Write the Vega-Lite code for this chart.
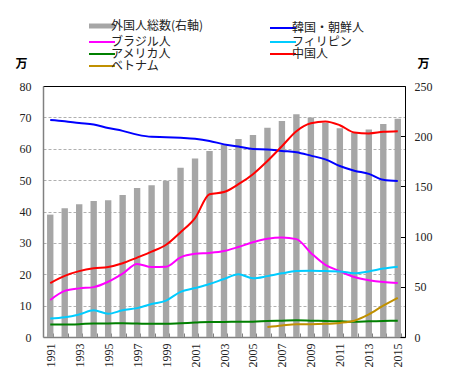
{
  "$schema": "https://vega.github.io/schema/vega-lite/v6.json",
  "width": 362,
  "height": 251,
  "autosize": {"type": "none"},
  "padding": {"left": 43, "top": 86, "right": 49, "bottom": 54},
  "background": "white",
  "config": {
    "view": {"stroke": null},
    "font": "Liberation Sans Narrow",
    "axis": {"labelFont": "Liberation Sans Narrow", "labelFontSize": 12, "labelColor": "#222"}
  },
  "data": {
    "values": [
      {"year": "1991", "total": 121.9, "korea": 69.2, "china": 17.2, "brazil": 11.8, "phil": 5.9, "usa": 4.0},
      {"year": "1992", "total": 128.2, "korea": 68.8, "china": 19.5, "brazil": 14.7, "phil": 6.3, "usa": 4.0},
      {"year": "1993", "total": 132.1, "korea": 68.2, "china": 21.0, "brazil": 15.5, "phil": 7.2, "usa": 4.1},
      {"year": "1994", "total": 135.4, "korea": 67.7, "china": 21.9, "brazil": 15.9, "phil": 8.5, "usa": 4.3},
      {"year": "1995", "total": 136.2, "korea": 66.6, "china": 22.3, "brazil": 17.6, "phil": 7.4, "usa": 4.3},
      {"year": "1996", "total": 141.5, "korea": 65.7, "china": 23.5, "brazil": 20.2, "phil": 8.5, "usa": 4.4},
      {"year": "1997", "total": 148.3, "korea": 64.5, "china": 25.3, "brazil": 23.3, "phil": 9.2, "usa": 4.3},
      {"year": "1998", "total": 151.2, "korea": 63.8, "china": 27.2, "brazil": 22.3, "phil": 10.5, "usa": 4.2},
      {"year": "1999", "total": 155.6, "korea": 63.7, "china": 29.4, "brazil": 22.4, "phil": 11.6, "usa": 4.2},
      {"year": "2000", "total": 168.6, "korea": 63.5, "china": 33.4, "brazil": 25.4, "phil": 14.4, "usa": 4.4},
      {"year": "2001", "total": 177.8, "korea": 63.2, "china": 37.9, "brazil": 26.5, "phil": 15.6, "usa": 4.6},
      {"year": "2002", "total": 185.2, "korea": 62.5, "china": 45.5, "brazil": 26.8, "phil": 16.9, "usa": 4.8},
      {"year": "2003", "total": 191.5, "korea": 61.4, "china": 46.2, "brazil": 27.4, "phil": 18.5, "usa": 4.8},
      {"year": "2004", "total": 197.3, "korea": 60.7, "china": 48.7, "brazil": 28.7, "phil": 20.0, "usa": 4.9},
      {"year": "2005", "total": 201.2, "korea": 59.9, "china": 51.9, "brazil": 30.2, "phil": 18.7, "usa": 4.9},
      {"year": "2006", "total": 208.4, "korea": 59.8, "china": 56.1, "brazil": 31.3, "phil": 19.4, "usa": 5.1, "viet": 3.2},
      {"year": "2007", "total": 215.2, "korea": 59.3, "china": 60.8, "brazil": 31.7, "phil": 20.3, "usa": 5.2, "viet": 3.7},
      {"year": "2008", "total": 221.8, "korea": 58.9, "china": 65.6, "brazil": 31.2, "phil": 21.0, "usa": 5.3, "viet": 4.1},
      {"year": "2009", "total": 218.6, "korea": 57.8, "china": 68.1, "brazil": 26.8, "phil": 21.1, "usa": 5.2, "viet": 4.1},
      {"year": "2010", "total": 213.4, "korea": 56.6, "china": 68.7, "brazil": 23.0, "phil": 21.0, "usa": 5.1, "viet": 4.2},
      {"year": "2011", "total": 207.9, "korea": 54.5, "china": 67.5, "brazil": 21.0, "phil": 20.9, "usa": 5.0, "viet": 4.5},
      {"year": "2012", "total": 203.4, "korea": 53.0, "china": 65.2, "brazil": 19.1, "phil": 20.3, "usa": 4.9, "viet": 5.2},
      {"year": "2013", "total": 206.6, "korea": 52.0, "china": 64.9, "brazil": 18.1, "phil": 20.9, "usa": 5.0, "viet": 7.2},
      {"year": "2014", "total": 212.2, "korea": 50.1, "china": 65.4, "brazil": 17.5, "phil": 21.8, "usa": 5.1, "viet": 10.0},
      {"year": "2015", "total": 217.3, "korea": 49.7, "china": 65.6, "brazil": 17.2, "phil": 22.4, "usa": 5.2, "viet": 12.5}
    ]
  },
  "layer": [
    {
      "mark": {"type": "bar"},
      "transform": [{"fold": ["total"], "as": ["key", "value"]}, {"calculate": "'外国人総数(右軸)'", "as": "series"}],
      "encoding": {
        "x": {
          "field": "year",
          "type": "ordinal",
          "scale": {"paddingInner": 0.56, "paddingOuter": 0.28},
          "axis": {
            "title": null,
            "labelAngle": -90,
            "labelExpr": "toNumber(datum.value) % 2 == 1 ? datum.value : ''",
            "labelOverlap": false,
            "labelPadding": 10,
            "tickBand": "extent",
            "tickSize": -4,
            "tickColor": "#808080",
            "domainColor": "#808080",
            "domainWidth": 1.5
          }
        },
        "y": {
          "field": "value",
          "type": "quantitative",
          "scale": {"domain": [0, 250]},
          "axis": {
            "orient": "right",
            "values": [0, 50, 100, 150, 200, 250],
            "title": "万",
            "titleAngle": 0,
            "titleFont": "Noto Sans CJK JP",
            "titleFontSize": 12,
            "titleFontWeight": "bold",
            "titleX": 18,
            "titleY": -23,
            "titleAlign": "center",
            "titleBaseline": "middle",
            "grid": false,
            "domainColor": "#000",
            "tickColor": "#000",
            "tickSize": -5,
            "labelPadding": 14
          }
        },
        "color": {
          "field": "series",
          "type": "nominal",
          "scale": {
            "domain": ["外国人総数(右軸)", "ブラジル人", "アメリカ人", "ベトナム", "韓国・朝鮮人", "フィリピン", "中国人"],
            "range": ["#a6a6a6", "#ff00ff", "#008000", "#c09000", "#0000ff", "#00ccff", "#ff0000"]
          },
          "legend": {
            "title": null,
            "orient": "none",
            "legendX": 53,
            "legendY": -66,
            "columns": 2,
            "columnPadding": 62,
            "rowPadding": -5,
            "symbolType": "stroke",
            "symbolSize": 676,
            "symbolStrokeWidth": 2,
            "labelFont": "Noto Sans CJK JP",
            "labelFontSize": 12,
            "labelColor": "#222",
            "labelOffset": 3,
            "encode": {
              "symbols": {"update": {"strokeWidth": {"signal": "datum.value === '外国人総数(右軸)' ? 5 : 2"}}}
            }
          }
        }
      }
    },
    {
      "transform": [
        {"fold": ["korea", "brazil", "phil", "usa", "china", "viet"], "as": ["key", "value"]},
        {"filter": "isValid(datum.value)"},
        {"lookup": "key", "from": {"data": {"values": [
          {"key": "korea", "series": "韓国・朝鮮人"},
          {"key": "brazil", "series": "ブラジル人"},
          {"key": "phil", "series": "フィリピン"},
          {"key": "usa", "series": "アメリカ人"},
          {"key": "china", "series": "中国人"},
          {"key": "viet", "series": "ベトナム"}
        ]}, "key": "key", "fields": ["series"]}}
      ],
      "mark": {"type": "line", "strokeWidth": 2, "interpolate": "monotone"},
      "encoding": {
        "x": {
          "field": "year",
          "type": "ordinal",
          "axis": {"orient": "top", "title": null, "labels": false, "ticks": false, "domainColor": "#000", "domainWidth": 1}
        },
        "y": {
          "field": "value",
          "type": "quantitative",
          "scale": {"domain": [0, 80]},
          "axis": {
            "orient": "left",
            "values": [0, 10, 20, 30, 40, 50, 60, 70, 80],
            "title": "万",
            "titleAngle": 0,
            "titleFont": "Noto Sans CJK JP",
            "titleFontSize": 12,
            "titleFontWeight": "bold",
            "titleX": -22,
            "titleY": -23,
            "titleAlign": "center",
            "titleBaseline": "middle",
            "ticks": false,
            "labelPadding": 12,
            "domainColor": "#808080",
            "domainWidth": 1.5,
            "grid": true,
            "gridColor": "#b0b0b0",
            "gridDash": [3, 2],
            "gridWidth": 1
          }
        },
        "color": {"field": "series", "type": "nominal"}
      }
    }
  ],
  "resolve": {"scale": {"y": "independent"}, "axis": {"x": "independent"}}
}
